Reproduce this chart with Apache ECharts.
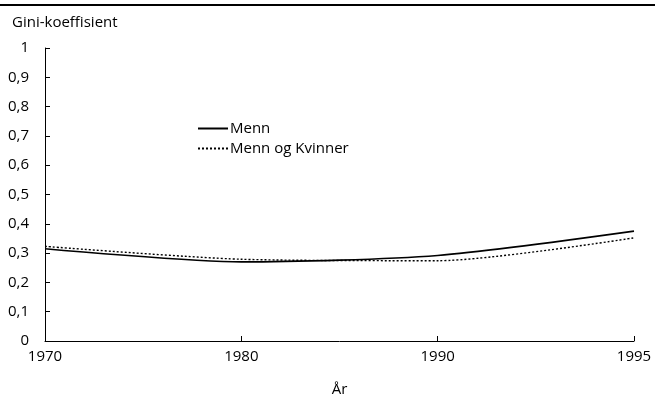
<!DOCTYPE html>
<html>
<head>
<meta charset="utf-8">
<script src="https://cdn.jsdelivr.net/npm/echarts@6/dist/echarts.min.js"></script>
<style>html,body{margin:0;padding:0;background:#fff}#c{width:655px;height:402px}</style>
</head>
<body>
<div id="c"></div>
<script>
const years = ['1970', '1980', '1990', '1995'];
const menn = [0.315, 0.270, 0.292, 0.375];
const mennOgKvinner = [0.323, 0.279, 0.274, 0.352];
const yTicks = [0, 0.1, 0.2, 0.3, 0.4, 0.5, 0.6, 0.7, 0.8, 0.9, 1];

const FONT = 'Open Sans';
const FS = 15;
const chart = echarts.init(document.getElementById('c'), null, {renderer: 'canvas'});
chart.setOption({
  animation: false,
  backgroundColor: '#fff',
  textStyle: {fontFamily: FONT},
  title: {
    text: 'Gini-koeffisient', left: 7, top: 10,
    textStyle: {fontSize: FS, fontWeight: 'normal', color: '#000', fontFamily: FONT}
  },
  graphic: [{
    type: 'line', shape: {x1: 0, y1: 5, x2: 655, y2: 5},
    style: {stroke: '#000', lineWidth: 2}
  }],
  legend: {
    orient: 'vertical', left: 192, top: 116, itemWidth: 30, itemHeight: 12, itemGap: 5,
    itemStyle: {opacity: 0},
    textStyle: {fontSize: FS, color: '#000', fontFamily: FONT, padding: [0, 0, 0, -3]},
    data: ['Menn', 'Menn og Kvinner']
  },
  grid: {left: 45, right: 21, top: 48, bottom: 59, containLabel: false},
  xAxis: {
    type: 'category', data: years, boundaryGap: false,
    name: 'År', nameLocation: 'middle', nameGap: 41,
    nameTextStyle: {fontSize: FS, color: '#000', fontFamily: FONT},
    axisLine: {lineStyle: {color: '#000', width: 1}},
    axisTick: {inside: true, length: 5, lineStyle: {color: '#000'}},
    axisLabel: {fontSize: FS, color: '#000', margin: 8, fontFamily: FONT},
    splitLine: {show: false}
  },
  yAxis: {
    type: 'value', min: 0, max: 1, interval: 0.1,
    axisLine: {show: true, lineStyle: {color: '#000', width: 1}},
    axisTick: {show: true, inside: true, length: 5, lineStyle: {color: '#000'}},
    axisLabel: {
      fontSize: FS, color: '#000', margin: 16, fontFamily: FONT,
      formatter: v => {
        const t = yTicks.find(x => Math.abs(x - v) < 1e-9);
        return t === undefined ? '' : String(Math.round(t * 10) / 10).replace('.', ',');
      }
    },
    splitLine: {show: false}
  },
  series: [
    {
      name: 'Menn', type: 'line', data: menn, smooth: 0.25, symbol: 'none',
      lineStyle: {color: '#000', width: 1.6, type: 'solid'}, itemStyle: {color: '#000'}
    },
    {
      name: 'Menn og Kvinner', type: 'line', data: mennOgKvinner, smooth: 0.25, symbol: 'none',
      lineStyle: {color: '#000', width: 1.4, type: [2, 2]}, itemStyle: {color: '#000'}
    }
  ]
});
</script>
</body>
</html>
